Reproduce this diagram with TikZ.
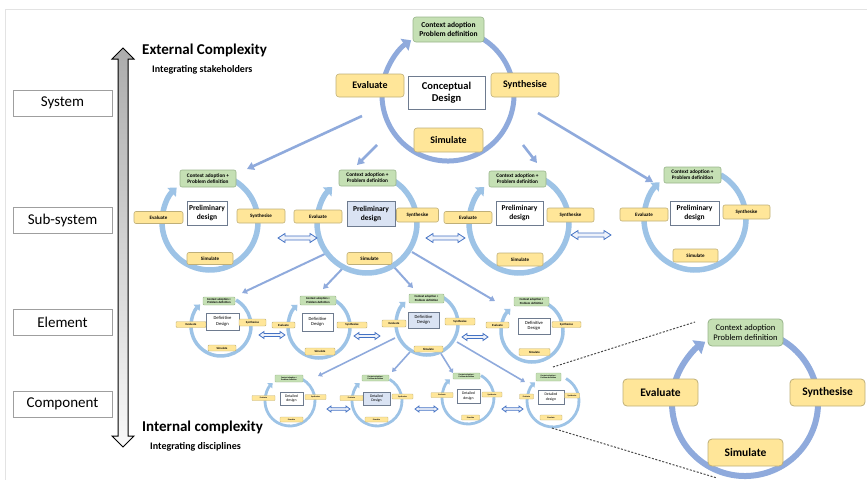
\documentclass[tikz,border=0pt]{standalone}
\usepackage{fontspec}
\setmainfont{Carlito}
\usetikzlibrary{arrows.meta}

\definecolor{ringA}{HTML}{8FAADC}
\definecolor{ringB}{HTML}{9DC3E6}
\definecolor{yfill}{HTML}{FFE699}
\definecolor{ydraw}{HTML}{BFAF78}
\definecolor{gfill}{HTML}{C5E0B4}
\definecolor{gdraw}{HTML}{98B48A}
\definecolor{bfill}{HTML}{DAE3F3}
\definecolor{wdraw}{HTML}{6E7B8F}
\definecolor{conn}{HTML}{8FAADC}
\definecolor{hollow}{HTML}{4472C4}
\definecolor{hollowfill}{HTML}{EEF2FA}
\definecolor{framegray}{HTML}{E3E3E3}

\newcommand\setfs[2]{\fontsize{#1}{#2}\selectfont}

% circular process arrow: style, centre x, centre y, radius, start angle, end angle
\newcommand\cyclering[6]{%
  \draw[#1] ([shift={(#5:#4)}]#2,#3) arc[start angle=#5, end angle=#6, radius=#4];}

% outlined left-right double arrow: x1, x2, y, half head height, half shaft height, head length
\newcommand\hollowarrow[6]{%
  \draw[hollowstyle] (#1,#3) -- ({#1+#6},{#3-#4}) -- ({#1+#6},{#3-#5}) -- ({#2-#6},{#3-#5})
    -- ({#2-#6},{#3-#4}) -- (#2,#3) -- ({#2-#6},{#3+#4}) -- ({#2-#6},{#3+#5})
    -- ({#1+#6},{#3+#5}) -- ({#1+#6},{#3+#4}) -- cycle;}

\tikzset{
  sz/.style 2 args={minimum width=#1, minimum height=#2},
  ybox/.style={draw=ydraw, fill=yfill, inner sep=0, align=center, line width=0.6pt},
  gbox/.style={draw=gdraw, fill=gfill, inner sep=0, align=center, line width=0.6pt},
  wbox/.style={draw=wdraw, fill=white, inner sep=0, align=center, line width=0.6pt},
  lvlbox/.style={draw=gray!75, fill=white, line width=0.8pt, sz={99}{26}, inner sep=0, font=\setfs{15}{18}},
  topY/.style={ybox, rounded corners=3, font=\bfseries\setfs{10}{12}},
  topG/.style={gbox, rounded corners=3, font=\bfseries\setfs{7.5}{9}},
  topW/.style={wbox, font=\bfseries\setfs{10.5}{12.5}},
  subY/.style={ybox, rounded corners=2, font=\bfseries\setfs{5}{6}},
  subG/.style={gbox, rounded corners=2, font=\bfseries\setfs{5.3}{6.3}},
  subW/.style={wbox, font=\bfseries\setfs{7.5}{9}},
  eleY/.style={ybox, rounded corners=1, line width=0.4pt, font=\bfseries\setfs{3}{3.5}},
  eleG/.style={gbox, rounded corners=1, line width=0.4pt, font=\bfseries\setfs{3}{3.5}},
  eleW/.style={wbox, line width=0.4pt, font=\setfs{4.6}{5.5}},
  comY/.style={ybox, rounded corners=0.7, line width=0.3pt, font=\bfseries\setfs{2}{2.4}},
  comG/.style={gbox, rounded corners=0.7, line width=0.3pt, font=\bfseries\setfs{2}{2.4}},
  comW/.style={wbox, line width=0.3pt, font=\setfs{3.8}{4.5}},
  bigY/.style={ybox, rounded corners=4, line width=0.8pt, font=\bfseries\setfs{11.5}{13}},
  bigG/.style={gbox, rounded corners=4, line width=0.8pt, font=\setfs{8.5}{10}},
  ringT/.style={draw=ringA, line width=5pt, -{Triangle[length=8pt,width=14pt]}},
  ringS/.style={draw=ringB, line width=5.5pt, -{Triangle[length=7pt,width=12pt]}},
  ringE/.style={draw=ringB, line width=3.5pt, -{Triangle[length=5pt,width=8.5pt]}},
  ringC/.style={draw=ringB, line width=2.8pt, -{Triangle[length=4pt,width=7pt]}},
  ringBig/.style={draw=ringA, line width=6pt, -{Triangle[length=10pt,width=16pt]}},
  connT/.style={draw=conn, line width=2.6pt, -{Triangle[length=7pt,width=8pt]}},
  connE/.style={draw=conn, line width=2pt, -{Triangle[length=5pt,width=6pt]}},
  connC/.style={draw=conn, line width=1.6pt, -{Triangle[length=4pt,width=5pt]}},
  hollowstyle/.style={draw=hollow, fill=hollowfill, line width=0.8pt, line join=miter},
  zoomline/.style={draw=gray!60!black, line width=1pt, dash pattern=on 2pt off 1.6pt},
  title/.style={anchor=west, inner sep=0, font=\bfseries\setfs{15}{18}},
  subtitle/.style={anchor=west, inner sep=0, font=\bfseries\setfs{10}{12}},
}

\begin{document}
\begin{tikzpicture}[x=1pt, y=-1pt]
\useasboundingbox (0,0) rectangle (867,480);

% page frame
\draw[framegray, line width=0.8pt] (5,480) -- (5,9) -- (867,9);

% complexity axis
\draw[black, line width=1pt, line join=miter, top color=gray!65, bottom color=gray!5]
  (123,48) -- (134,59) -- (128,59) -- (128,436) -- (134,436) -- (123,447)
  -- (112,436) -- (118,436) -- (118,59) -- (112,59) -- cycle;

\node[title] (ext) at (142,50) {External Complexity};
\node[subtitle] (ext2) at (152,70) {Integrating stakeholders};
\node[title] (int) at (142,427) {Internal complexity};
\node[subtitle] (int2) at (150,447) {Integrating disciplines};

% level names
\node[lvlbox] (lv-sys) at (62.5,103) {System};
\node[lvlbox] (lv-sub) at (62.5,220) {Sub-system};
\node[lvlbox] (lv-ele) at (62.5,322) {Element};
\node[lvlbox] (lv-com) at (62.5,404) {Component};

% decomposition connectors
\coordinate (k1a) at (362,116); \coordinate (k1b) at (247,169);
\coordinate (k2a) at (377,145); \coordinate (k2b) at (357,165);
\coordinate (k3a) at (523,145); \coordinate (k3b) at (537,163);
\coordinate (k4a) at (538,113); \coordinate (k4b) at (653,182);
\coordinate (m1a) at (329,252); \coordinate (m1b) at (242,293);
\coordinate (m2a) at (343,268); \coordinate (m2b) at (323,289);
\coordinate (m3a) at (394,267); \coordinate (m3b) at (413,288);
\coordinate (m4a) at (412,252); \coordinate (m4b) at (495,301);
\coordinate (n1a) at (395,338); \coordinate (n1b) at (318,376);
\coordinate (n2a) at (410,352); \coordinate (n2b) at (392,372);
\coordinate (n3a) at (440,352); \coordinate (n3b) at (453,373);
\coordinate (n4a) at (457,342); \coordinate (n4b) at (525,382);
\foreach \k in {1,...,4}{\draw[connT] (k\k a) -- (k\k b);}
\foreach \k in {1,...,4}{\draw[connE] (m\k a) -- (m\k b);}
\foreach \k in {1,...,4}{\draw[connC] (n\k a) -- (n\k b);}

% process rings
\cyclering{ringT}{448}{95}{66}{-70}{236}
\cyclering{ringS}{210}{222}{48}{-60}{226}
\cyclering{ringS}{367}{223}{50}{-60}{226}
\cyclering{ringS}{519}{223}{50}{-60}{226}
\cyclering{ringS}{695}{219}{51}{-60}{226}
\cyclering{ringE}{221}{326}{30}{-60}{226}
\cyclering{ringE}{319}{327}{31}{-60}{226}
\cyclering{ringE}{427}{324}{31}{-60}{226}
\cyclering{ringE}{532}{331}{31}{-60}{226}
\cyclering{ringC}{290}{401}{25}{-60}{226}
\cyclering{ringC}{377}{401}{25}{-60}{226}
\cyclering{ringC}{468}{398}{26}{-60}{226}
\cyclering{ringC}{553}{401}{26}{-60}{226}
\cyclering{ringBig}{745}{403}{73}{-62}{237}

% interactions between neighbours
\hollowarrow{278}{317}{238}{4.5}{2}{7}
\hollowarrow{426}{465}{238}{4.5}{2}{7}
\hollowarrow{571}{611}{235}{4.5}{2}{7}
\hollowarrow{259}{285}{335}{3.5}{1.5}{5}
\hollowarrow{354}{380}{336}{3.5}{1.5}{5}
\hollowarrow{462}{488}{337}{3.5}{1.5}{5}
\hollowarrow{327}{350}{409}{3}{1.2}{4}
\hollowarrow{415}{438}{409}{3}{1.2}{4}
\hollowarrow{502}{523}{409}{3}{1.2}{4}

% system level
\node[topG, sz={71}{25}] (t-ctx) at (448.5,29.5) {Context adoption\\Problem definition};
\node[topY, sz={68}{23}] (t-eva) at (370,85.5) {Evaluate};
\node[topW, sz={77}{33}] (t-des) at (446.5,92.5) {Conceptual\\Design};
\node[topY, sz={68}{24}] (t-syn) at (525,85) {Synthesise};
\node[topY, sz={69}{24}] (t-sim) at (448.5,140) {Simulate};

% sub-system level
\node[subG, sz={56}{17}] (s1-ctx) at (208,178.5) {Context adoption +\\Problem definition};
\node[subY, sz={49}{12}] (s1-eva) at (158.5,217.5) {Evaluate};
\node[subW, sz={40}{24}] (s1-des) at (207,213) {Preliminary\\design};
\node[subY, sz={48}{14}] (s1-syn) at (261,216) {Synthesise};
\node[subY, sz={46}{12}] (s1-sim) at (210,258.5) {Simulate};

\node[subG, sz={57}{16}] (s2-ctx) at (367.5,178) {Context adoption +\\Problem definition};
\node[subY, sz={48}{13}] (s2-eva) at (318,216.5) {Evaluate};
\node[subW, fill=bfill, sz={48}{25}] (s2-des) at (371,213.5) {Preliminary\\design};
\node[subY, sz={42}{14}] (s2-syn) at (417.5,215) {Synthesise};
\node[subY, sz={45}{12}] (s2-sim) at (369.5,258.5) {Simulate};

\node[subG, sz={57}{16}] (s3-ctx) at (517.5,179) {Context adoption +\\Problem definition};
\node[subY, sz={48}{12}] (s3-eva) at (468,217.5) {Evaluate};
\node[subW, sz={47}{24}] (s3-des) at (519.5,213) {Preliminary\\design};
\node[subY, sz={47}{14}] (s3-syn) at (570.5,215) {Synthesise};
\node[subY, sz={46}{13}] (s3-sim) at (520,259.5) {Simulate};

\node[subG, sz={57}{16}] (s4-ctx) at (692.5,175) {Context adoption +\\Problem definition};
\node[subY, sz={48}{13}] (s4-eva) at (644,214.5) {Evaluate};
\node[subW, sz={49}{24}] (s4-des) at (694.5,213) {Preliminary\\design};
\node[subY, sz={47}{14}] (s4-syn) at (746.5,212) {Synthesise};
\node[subY, sz={45}{13}] (s4-sim) at (695.5,255.5) {Simulate};

% element level
\node[eleG, sz={32}{8}] (e1-ctx) at (219,301) {Context adoption +\\Problem definition};
\node[eleY, sz={30}{6}] (e1-eva) at (191,324.5) {Evaluate};
\node[eleW, sz={33}{17}] (e1-des) at (222.5,321.5) {Definitive\\Design};
\node[eleY, sz={27}{7}] (e1-syn) at (252.5,322.5) {Synthesise};
\node[eleY, sz={28}{6}] (e1-sim) at (222,348) {Simulate};

\node[eleG, sz={36}{9}] (e2-ctx) at (318,300.5) {Context adoption +\\Problem definition};
\node[eleY, sz={23}{6}] (e2-eva) at (283.5,325) {Evaluate};
\node[eleW, sz={31}{18}] (e2-des) at (317.5,322) {Definitive\\Design};
\node[eleY, sz={30}{6}] (e2-syn) at (352,325) {Synthesise};
\node[eleY, sz={30}{7}] (e2-sim) at (320,351.5) {Simulate};

\node[eleG, sz={35}{9}] (e3-ctx) at (426.5,298.5) {Context adoption +\\Problem definition};
\node[eleY, sz={24}{7}] (e3-eva) at (394,323.5) {Evaluate};
\node[eleW, fill=bfill, sz={31}{16}] (e3-des) at (423.5,320) {Definitive\\Design};
\node[eleY, sz={30}{7}] (e3-syn) at (460,321.5) {Synthesise};
\node[eleY, sz={29}{6}] (e3-sim) at (428.5,349) {Simulate};

\node[eleG, sz={35}{9}] (e4-ctx) at (531.5,301.5) {Context adoption +\\Problem definition};
\node[eleY, sz={23}{6}] (e4-eva) at (497.5,325) {Evaluate};
\node[eleW, sz={32}{16}] (e4-des) at (534,326) {Definitive\\Design};
\node[eleY, sz={29}{6}] (e4-syn) at (566.5,324.5) {Synthesise};
\node[eleY, sz={31}{7}] (e4-sim) at (534.5,352) {Simulate};

% component level
\node[comG, sz={28}{7}] (c1-ctx) at (289,378.5) {Context adoption +\\Problem definition};
\node[comY, sz={23}{5}] (c1-eva) at (263.5,398) {Evaluate};
\node[comW, sz={23}{13}] (c1-des) at (291.5,398.5) {Detailed\\design};
\node[comY, sz={21}{5}] (c1-syn) at (315.5,397) {Synthesise};
\node[comY, sz={23}{5}] (c1-sim) at (291.5,419.5) {Simulate};

\node[comG, sz={27}{6}] (c2-ctx) at (375.5,378) {Context adoption +\\Problem definition};
\node[comY, sz={23}{5}] (c2-eva) at (351.5,398) {Evaluate};
\node[comW, fill=bfill, sz={27}{13}] (c2-des) at (376.5,398.5) {Detailed\\Design};
\node[comY, sz={21}{5}] (c2-syn) at (402.5,396.5) {Synthesise};
\node[comY, sz={23}{5}] (c2-sim) at (376.5,419.5) {Simulate};

\node[comG, sz={27}{6}] (c3-ctx) at (466.5,376) {Context adoption +\\Problem definition};
\node[comY, sz={22}{5}] (c3-eva) at (442,395) {Evaluate};
\node[comW, sz={23}{14}] (c3-des) at (468.5,396) {Detailed\\design};
\node[comY, sz={20}{5}] (c3-syn) at (492,394.5) {Synthesise};
\node[comY, sz={18}{5}] (c3-sim) at (470.5,417.5) {Simulate};

\node[comG, sz={25}{8}] (c4-ctx) at (548.5,377) {Context adoption +\\Problem definition};
\node[comY, sz={14}{5}] (c4-eva) at (526.5,396.5) {Evaluate};
\node[comW, sz={26}{14}] (c4-des) at (551,397) {Detailed\\design};
\node[comY, sz={15}{5}] (c4-syn) at (572,395.5) {Synthesise};
\node[comY, sz={22}{5}] (c4-sim) at (551,417.5) {Simulate};

% enlarged generic cycle
\node[bigG, sz={75}{27}] (b-ctx) at (745.5,332.5) {Context adoption\\Problem definition};
\node[bigY, sz={75}{27}] (b-eva) at (660.5,392.5) {Evaluate};
\node[bigY, sz={75}{27}] (b-syn) at (827.5,392.5) {Synthesise};
\node[bigY, sz={75}{27}] (b-sim) at (745.5,452.5) {Simulate};

\coordinate (zu1) at (553,367); \coordinate (zu2) at (695,322);
\coordinate (zl1) at (552,428); \coordinate (zl2) at (717,478);
\draw[zoomline] (zu1) -- (zu2);
\draw[zoomline] (zl1) -- (zl2);
\end{tikzpicture}
\end{document}
